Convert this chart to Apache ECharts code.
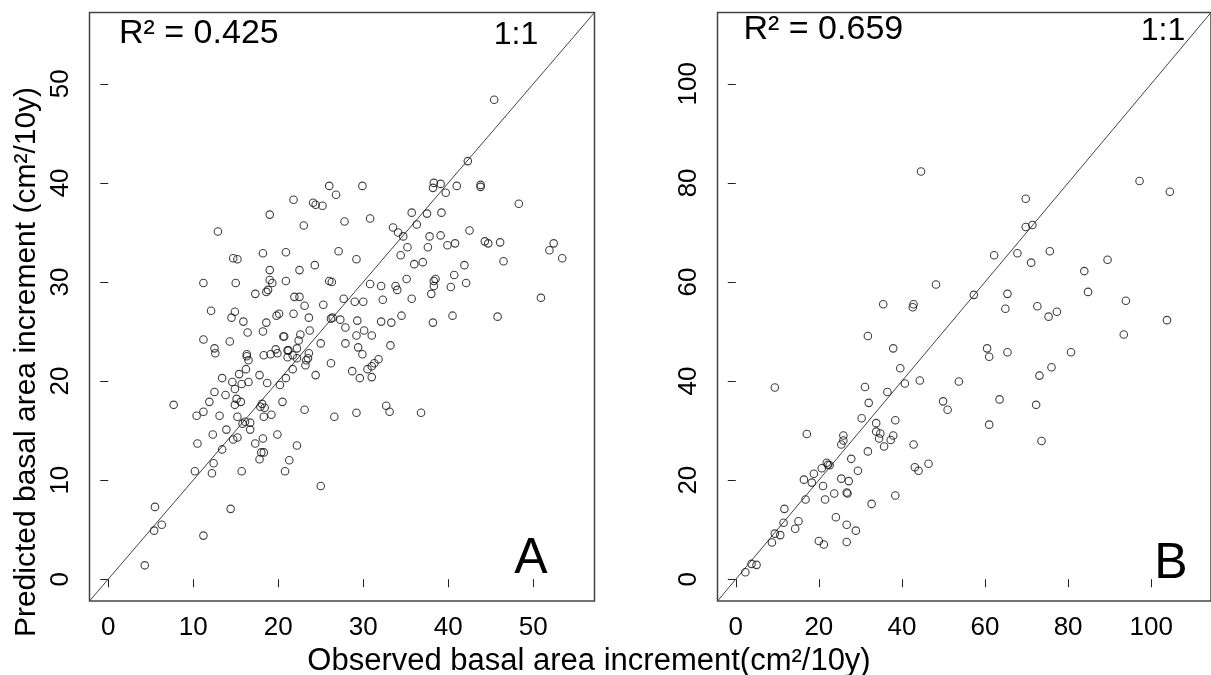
<!DOCTYPE html>
<html>
<head>
<meta charset="utf-8">
<script src="https://cdn.jsdelivr.net/npm/echarts@6/dist/echarts.min.js"></script>
<style>
html,body{margin:0;padding:0;background:#fff;}
#chart{width:1211px;height:675px;}
</style>
</head>
<body>
<div id="chart"></div>
<script>
// ---------- DATA ----------
// Panel A: observed vs predicted basal area increment (cm²/10y)
const obsA = [45.4,42.3,26.0,29.9,38.3,39.1,38.2,41.0,43.8,43.8,39.7,26.8,21.8,24.1,24.4,25.2,48.3,19.0,35.7,37.5,
39.2,30.8,27.8,12.9,23.0,36.3,33.5,34.1,42.5,34.7,37.8,39.1,44.3,44.7,46.1,39.9,40.8,52.4,51.9,53.4,
46.5,35.2,37.6,34.4,36.0,37.0,29.2,27.1,18.2,20.9,14.7,15.2,24.3,22.5,19.0,19.0,19.3,11.2,15.0,20.9,
26.0,26.3,30.8,35.1,32.1,33.8,34.0,38.3,38.5,38.3,40.7,40.3,41.9,42.1,38.0,50.9,17.3,18.6,18.8,21.9,
22.5,27.7,32.3,29.0,30.0,25.3,23.1,12.1,14.9,14.5,20.1,19.8,21.8,23.6,26.2,26.4,27.3,29.3,34.5,35.7,
32.1,33.3,40.5,45.8,38.2,15.9,18.6,16.4,18.2,27.9,30.1,23.7,29.2,31.0,20.6,20.7,11.2,14.3,22.6,22.4,
25.0,12.5,12.6,19.7,21.1,21.2,22.2,27.9,29.4,29.9,33.2,16.3,16.3,18.3,19.1,19.9,21.1,21.7,22.2,16.5,
23.6,23.5,23.3,23.2,21.7,26.2,31.3,31.8,31.0,30.5,31.0,28.7,29.6,24.4,20.9,20.2,17.8,18.7,15.4,16.2,
13.4,14.6,15.7,16.5,14.9,12.5,13.8,11.9,7.7,11.2,10.4,13.1,15.1,15.6,14.9,17.9,18.1,18.4,20.5,23.1,
18.3,19.2,15.2,16.1,15.8,16.7,16.7,13.9,26.6,29.2,32.7,33.1,36.8,10.5,12.3,13.4,14.7,15.2,17.3,18.2,
19.9,18.0,18.3,17.8,22.2,21.3,12.4,12.2,10.2,15.7,20.8,25.0,5.5,14.4,5.4,6.3,11.2,4.3];
const predA = [48.4,42.2,39.7,39.7,40.0,39.9,39.5,39.7,39.8,39.6,39.0,38.8,38.3,38.0,37.8,37.7,37.9,36.8,37.0,36.9,
37.0,36.4,36.1,35.1,35.7,35.8,35.5,35.0,35.2,34.6,34.6,34.7,34.1,33.9,34.0,33.7,33.9,33.9,33.2,32.4,
32.1,33.5,33.5,32.7,31.8,32.0,32.3,33.1,32.9,33.0,32.4,32.3,31.7,31.2,31.2,30.2,29.9,29.9,29.9,30.1,
30.1,30.0,29.8,30.3,29.6,29.6,29.2,30.1,30.3,29.6,30.7,29.5,31.7,29.9,28.8,28.4,28.8,29.0,29.2,28.5,
28.5,28.3,28.2,28.0,28.0,27.7,27.6,27.1,27.0,26.4,26.8,26.6,26.8,26.4,26.3,26.4,26.2,26.1,26.6,28.3,
26.0,25.9,26.6,26.5,25.9,26.0,25.9,24.9,25.0,25.4,25.1,25.1,24.6,24.6,24.5,24.5,24.2,24.0,24.7,24.1,
23.8,23.3,22.8,23.2,23.1,23.1,23.3,23.8,23.4,22.7,23.6,22.7,22.5,22.6,22.7,22.8,22.4,22.6,22.3,22.1,
22.8,22.3,22.1,21.6,21.2,21.8,21.8,22.2,21.5,21.2,20.4,21.0,20.3,20.6,20.3,19.6,20.6,19.8,20.7,21.2,
20.3,19.9,19.7,19.9,19.2,18.9,18.6,17.9,17.6,16.9,16.5,16.5,18.2,17.9,17.6,17.4,17.7,17.3,17.9,17.1,
16.4,16.6,16.4,15.9,15.7,15.8,15.1,15.1,16.4,16.8,17.5,16.9,16.8,13.7,14.6,13.1,14.1,14.3,13.7,14.2,
14.6,12.8,12.8,12.1,13.5,12.0,11.7,10.7,10.9,10.9,10.9,9.4,7.3,7.1,4.9,5.5,4.4,1.4];

// Panel B
const obsB = [44.6,97.2,104.5,69.8,69.8,71.4,62.2,67.8,75.6,71.1,89.5,83.9,48.2,84.8,57.3,65.4,35.5,42.8,42.6,64.9,
72.6,93.9,77.3,75.3,103.8,31.8,93.4,37.9,60.5,61.0,65.4,80.7,39.6,76.0,73.1,9.4,31.1,40.7,44.3,53.7,
36.5,63.5,32.0,49.9,51.0,72.3,30.3,38.4,33.8,61.0,33.8,34.8,34.5,37.3,37.9,35.7,42.8,73.6,17.1,25.9,
25.9,25.4,31.8,27.8,21.9,22.2,22.6,20.7,18.8,29.4,43.1,44.0,46.4,16.4,18.3,25.4,27.2,21.0,23.7,26.7,
26.9,38.4,16.8,21.5,32.7,11.7,24.1,11.5,15.1,14.3,26.7,28.9,9.4,10.7,8.7,20.0,21.2,26.7,2.3,3.8,5.0];
const predB = [82.3,80.4,78.2,76.8,71.1,71.5,65.4,65.8,66.2,63.9,64.5,62.2,59.5,58.0,57.4,57.6,55.5,55.5,54.9,54.6,
55.1,56.2,54.0,53.0,52.3,49.1,49.4,46.6,46.6,44.9,45.8,45.8,42.6,42.8,41.1,38.7,38.8,39.5,40.1,39.9,
37.8,36.3,35.6,35.9,34.2,35.2,32.5,32.1,31.5,31.2,29.8,29.4,28.4,28.1,29.0,26.8,27.2,27.9,29.3,29.0,
28.0,27.2,25.8,24.3,23.5,23.1,23.0,22.4,21.3,21.9,22.6,21.9,23.3,20.1,19.5,20.3,19.8,18.8,17.3,17.5,
17.3,16.9,16.1,16.1,15.2,14.2,12.5,11.4,11.7,10.2,11.0,9.8,9.2,8.9,7.4,7.7,7.0,7.5,1.4,3.1,2.9];

// axis limits (R default 4% padding of 0..55 and 0..110) and tick labels
const limA = [-2.2, 57.2];
const limB = [-4.4, 114.4];
const ticksA = [0, 10, 20, 30, 40, 50];
const ticksB = [0, 20, 40, 60, 80, 100];

const r2A = 'R² = 0.425';
const r2B = 'R² = 0.659';
const xTitle = 'Observed basal area increment(cm²/10y)';
const yTitle = 'Predicted basal area increment (cm²/10y)';

// ---------- CHART ----------
const FONT = '"Liberation Sans", Arial, sans-serif';
const chart = echarts.init(document.getElementById('chart'), null, {renderer: 'canvas'});

function mkX(idx, lim, ticks) {
  return {
    gridIndex: idx, type: 'value', min: lim[0], max: lim[1],
    axisLine: {show: false},
    splitLine: {show: false},
    axisTick: {show: true, customValues: ticks, length: 8, lineStyle: {color: '#222', width: 1}},
    axisLabel: {customValues: ticks, fontSize: 26, fontFamily: FONT, color: '#000', margin: 14}
  };
}
function mkY(idx, lim, ticks) {
  return {
    gridIndex: idx, type: 'value', min: lim[0], max: lim[1],
    axisLine: {show: false},
    splitLine: {show: false},
    axisTick: {show: true, customValues: ticks, length: 8, lineStyle: {color: '#222', width: 1}},
    axisLabel: {customValues: ticks, fontSize: 26, fontFamily: FONT, color: '#000', margin: 16, rotate: 90}
  };
}
const pointStyle = {color: 'rgba(0,0,0,0)', borderColor: '#111', borderWidth: 1.1};

const option = {
  animation: false,
  backgroundColor: '#fff',
  grid: [
    {left: 89.5, top: 12.5, width: 505, height: 588.5, show: true, borderColor: '#444', borderWidth: 1.5, backgroundColor: 'rgba(0,0,0,0)'},
    {left: 717.5, top: 12.5, width: 502, height: 588.5, show: true, borderColor: '#444', borderWidth: 1.5, backgroundColor: 'rgba(0,0,0,0)'}
  ],
  xAxis: [mkX(0, limA, ticksA), mkX(1, limB, ticksB)],
  yAxis: [mkY(0, limA, ticksA), mkY(1, limB, ticksB)],
  series: [
    {type: 'line', xAxisIndex: 0, yAxisIndex: 0, data: [[limA[0], limA[0]], [limA[1], limA[1]]],
     symbol: 'none', lineStyle: {color: '#444', width: 1}, silent: true, z: 1},
    {type: 'scatter', xAxisIndex: 0, yAxisIndex: 0, data: obsA.map((v, i) => [v, predA[i]]),
     symbol: 'circle', symbolSize: 7.5, itemStyle: pointStyle, silent: true, z: 2},
    {type: 'line', xAxisIndex: 1, yAxisIndex: 1, data: [[limB[0], limB[0]], [limB[1], limB[1]]],
     symbol: 'none', lineStyle: {color: '#444', width: 1}, silent: true, z: 1},
    {type: 'scatter', xAxisIndex: 1, yAxisIndex: 1, data: obsB.map((v, i) => [v, predB[i]]),
     symbol: 'circle', symbolSize: 7.5, itemStyle: pointStyle, silent: true, z: 2}
  ],
  graphic: [
    {type: 'text', x: 119, y: 34, style: {text: r2A, font: '34px ' + FONT, fill: '#000', textAlign: 'left', textVerticalAlign: 'middle'}},
    {type: 'text', x: 516, y: 35, style: {text: '1:1', font: '32px ' + FONT, fill: '#000', textAlign: 'center', textVerticalAlign: 'middle'}},
    {type: 'text', x: 531, y: 559, style: {text: 'A', font: '50px ' + FONT, fill: '#000', textAlign: 'center', textVerticalAlign: 'middle'}},
    {type: 'text', x: 743.5, y: 30, style: {text: r2B, font: '34px ' + FONT, fill: '#000', textAlign: 'left', textVerticalAlign: 'middle'}},
    {type: 'text', x: 1163, y: 31, style: {text: '1:1', font: '32px ' + FONT, fill: '#000', textAlign: 'center', textVerticalAlign: 'middle'}},
    {type: 'text', x: 1171, y: 564, style: {text: 'B', font: '50px ' + FONT, fill: '#000', textAlign: 'center', textVerticalAlign: 'middle'}},
    {type: 'text', x: 589, y: 661, style: {text: xTitle, font: '31px ' + FONT, fill: '#000', textAlign: 'center', textVerticalAlign: 'middle'}},
    {type: 'text', x: 27, y: 362, rotation: Math.PI / 2, style: {text: yTitle, font: '30px ' + FONT, fill: '#000', textAlign: 'center', textVerticalAlign: 'middle'}}
  ]
};
chart.setOption(option);
</script>
</body>
</html>
